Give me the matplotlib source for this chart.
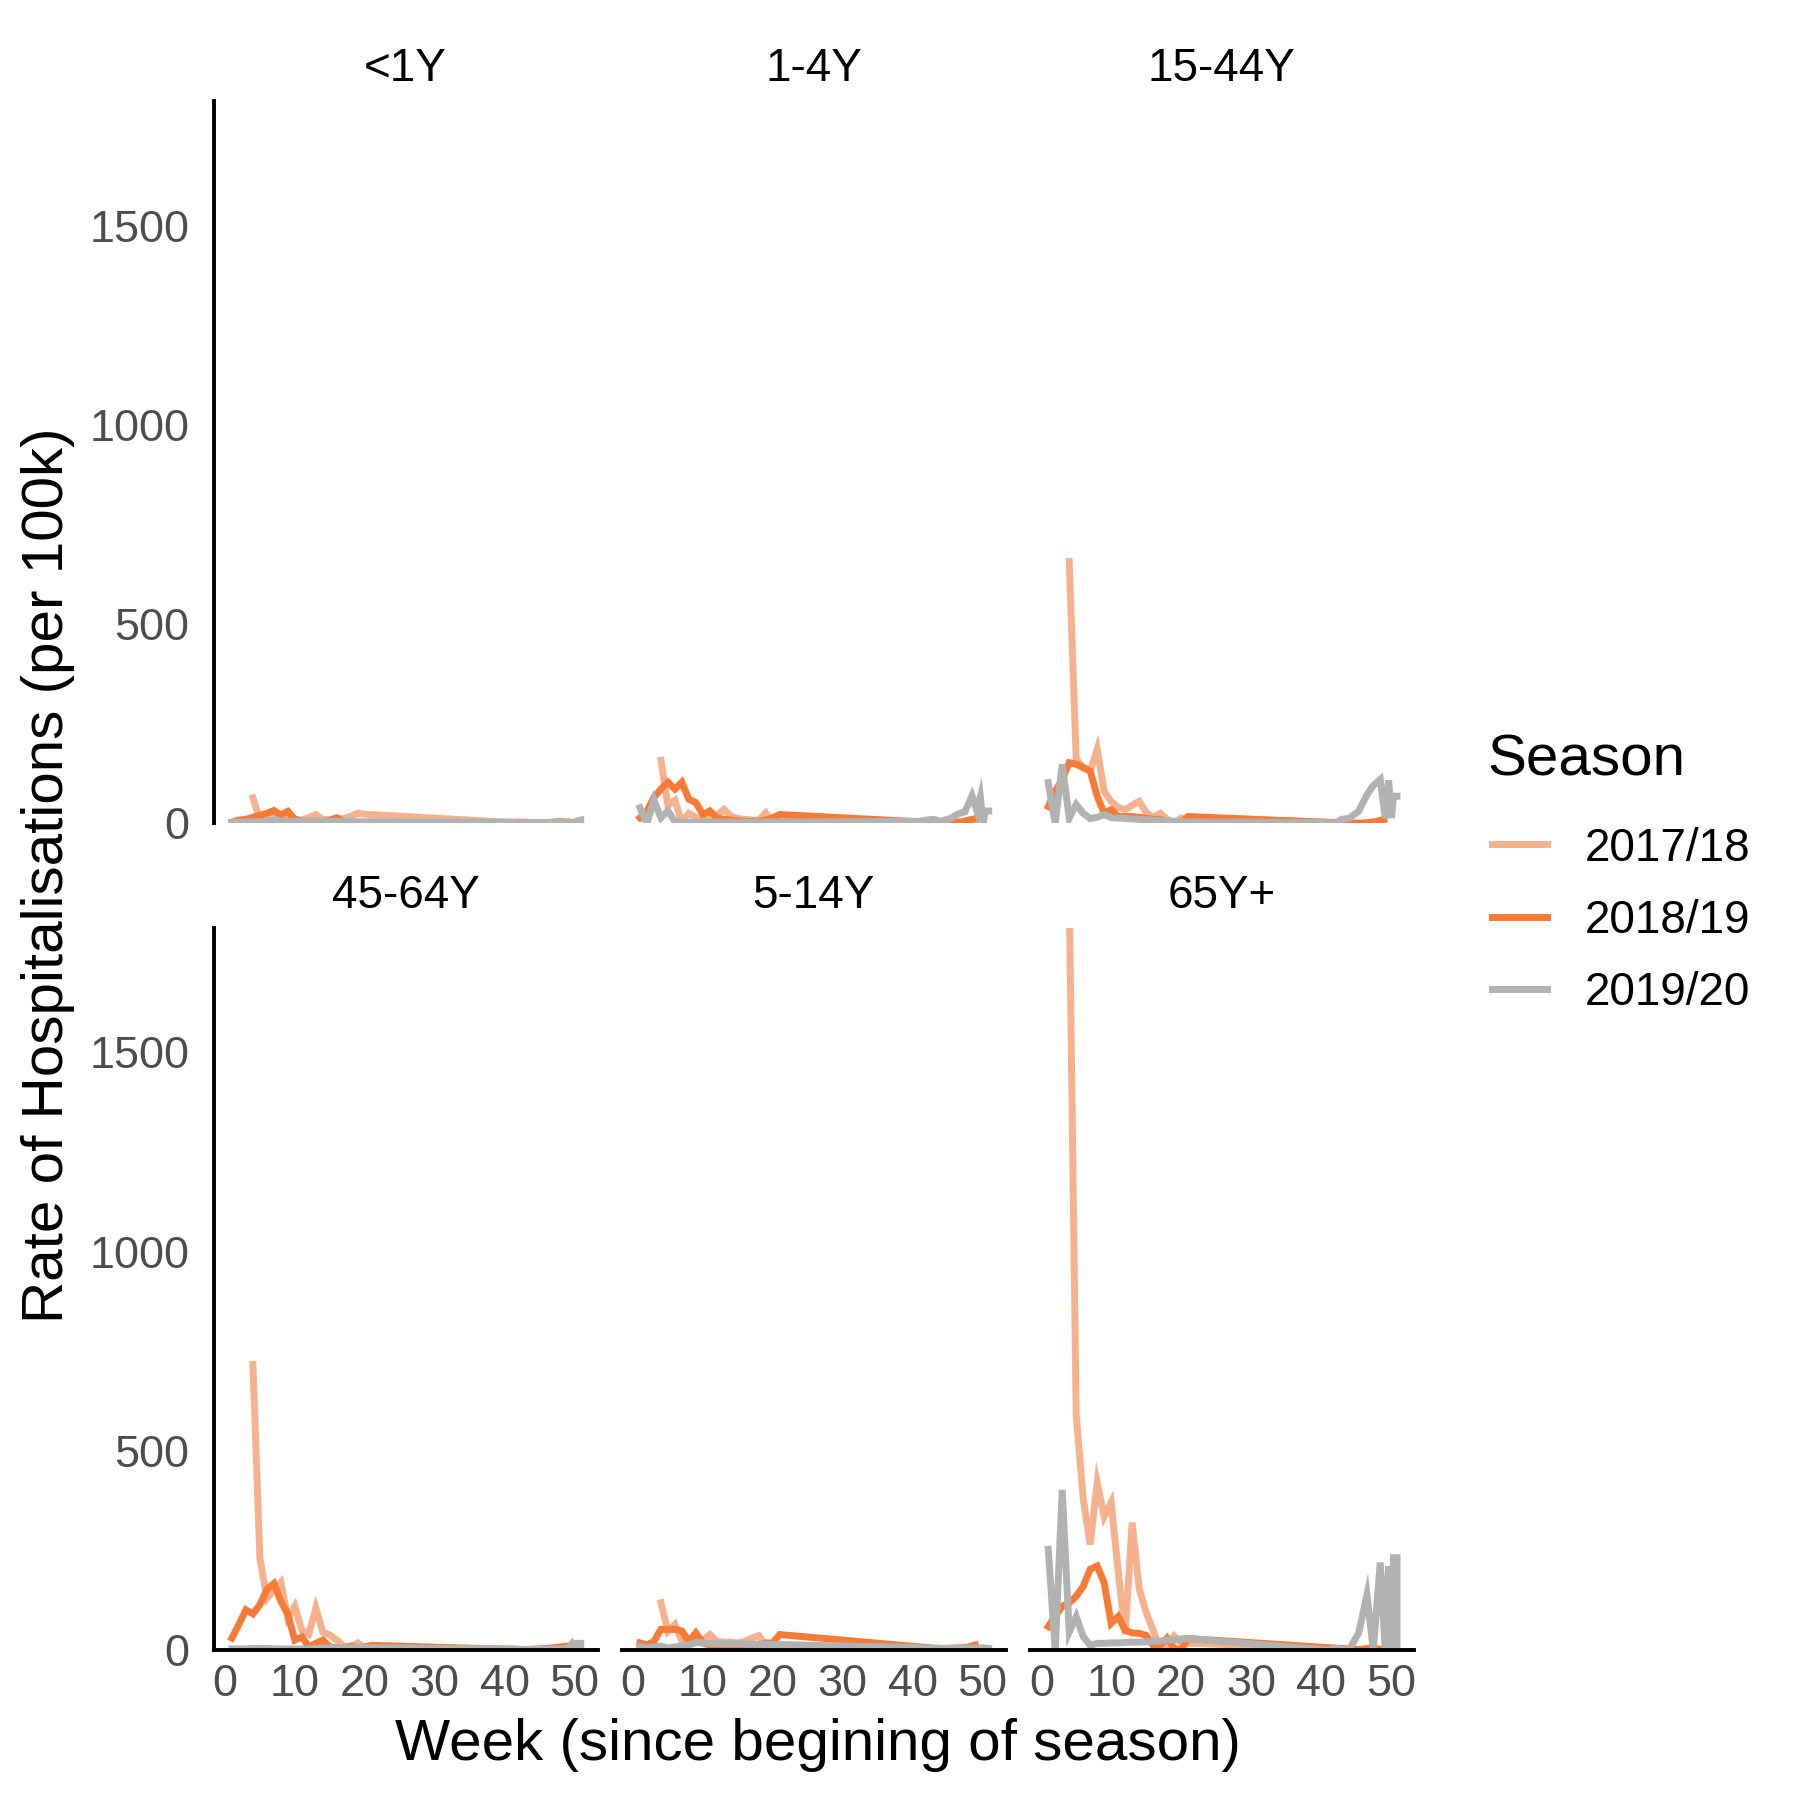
import matplotlib.pyplot as plt
from matplotlib.lines import Line2D

# weeks that have data in each season
weeks_1718 = [4, 5, 6, 7, 8, 9, 10, 11, 12, 13, 14, 15, 16, 17, 18, 19, 20,
              41, 42, 43, 44, 45, 46, 47, 48, 49]
weeks_1819 = [1, 2, 3, 4, 5, 6, 7, 8, 9, 10, 11, 12, 13, 14, 15, 16, 17, 18, 19, 20, 21,
              43, 44, 45, 46, 47, 48, 49]
weeks_1920 = [1, 2, 3, 4, 5, 6, 7, 8, 9, 10, 11, 12, 13, 14, 15, 16, 17, 18, 19, 20, 21,
              41, 42, 43, 44, 45.4, 46.6, 47.5, 48.5, 49.2, 49.7, 50.1, 50.4, 50.9, 50.9]

age_groups = ['<1Y', '1-4Y', '15-44Y', '45-64Y', '5-14Y', '65Y+']
seasons = ['2017/18', '2018/19', '2019/20']
season_colors = ['#F5B28E', '#F77B36', '#B2B2B2']

# rate per 100k
r1718_lt1 = [64, 8, 15, 25, 18, 12, 10, 8, 15, 22, 10, 8, 12, 12, 18, 25, 23,
             2, 4, 3, 2, 1, 1, 2, 3, 2]
r1819_lt1 = [3, 8, 10, 15, 20, 25, 32, 21, 30, 10, 5, 5, 5, 3, 8, 14, 3, 2, 2, 2, 2,
             1, 1, 1, 2, 3, 4, 3]
r1920_lt1 = [2, 3, 3, 3, 4, 5, 8, 6, 5, 5, 5, 5, 5, 5, 5, 5, 5, 4, 4, 4, 4,
             3, 2, 2, 2, 2, 2, 2, 3, 3, 2, 3, 6, 8, 3]

r1718_1to4 = [158, 45, 58, 2, 25, 15, 10, 12, 20, 35, 18, 12, 10, 8, 8, 26, 5,
              2, 2, 1, 1, 1, 2, 2, 1, 1]
r1819_1to4 = [14, 30, 65, 86, 103, 86, 103, 60, 52, 22, 31, 14, 10, 8, 6, 5, 5, 5, 8, 14, 22,
              2, 1, 1, 2, 4, 8, 12]
r1920_1to4 = [39, 0, 58, 14, 31, 5, 3, 2, 3, 3, 3, 3, 3, 3, 3, 3, 3, 3, 3, 3, 3,
              5, 8, 10, 5, 12, 24, 29, 69, 31, 66, 0, 31, 31, 31]

r1718_15to44 = [657, 161, 140, 131, 186, 80, 55, 40, 34, 45, 55, 28, 15, 25, 10, 0, 13,
                3, 2, 2, 1, 1, 1, 2, 2, 2]
r1819_15to44 = [42, 80, 110, 152, 148, 140, 131, 68, 26, 34, 17, 17, 17, 15, 13, 10, 10, 2, 0, 2, 17,
                1, 0, 0, 0, 2, 5, 10]
r1920_15to44 = [102, 0, 148, 13, 47, 25, 12, 15, 22, 14, 13, 12, 11, 10, 9, 8, 7, 6, 5, 4, 3,
                2, 0, 10, 12, 30, 72, 95, 110, 13, 108, 13, 68, 68, 68]

r1718_45to64 = [717, 230, 130, 150, 170, 80, 110, 50, 40, 105, 45, 38, 25, 10, 8, 18, 5,
                2, 2, 1, 1, 2, 3, 4, 5, 6]
r1819_45to64 = [30, 65, 101, 91, 114, 152, 167, 122, 90, 25, 33, 8, 17, 25, 8, 5, 5, 10, 5, 8, 12,
                1, 2, 3, 4, 6, 8, 10]
r1920_45to64 = [3, 3, 3, 4, 4, 4, 3, 3, 3, 3, 3, 3, 4, 5, 5, 5, 6, 6, 6, 6, 6,
                3, 2, 2, 2, 2, 2, 3, 3, 5, 17, 8, 17, 17, 5]

r1718_5to14 = [119, 47, 64, 22, 20, 18, 25, 39, 22, 20, 20, 18, 22, 30, 36, 13, 5,
               3, 4, 3, 2, 2, 3, 4, 3, 2]
r1819_5to14 = [18, 13, 22, 52, 52, 52, 48, 22, 43, 18, 12, 10, 10, 10, 10, 10, 10, 12, 18, 18, 39,
               5, 4, 4, 5, 6, 8, 13]
r1920_5to14 = [9, 5, 8, 10, 5, 8, 10, 12, 20, 18, 17, 17, 16, 16, 16, 15, 15, 15, 14, 14, 14,
               6, 5, 5, 4, 5, 4, 6, 5, 4, 5, 6, 5, 4, 3]

r1718_65plus = [1900, 590, 380, 265, 420, 335, 370, 200, 40, 320, 155, 95, 50, 0, 8, 35, 18,
                5, 3, 2, 1, 1, 2, 3, 3, 2]
r1819_65plus = [59, 85, 110, 118, 135, 160, 203, 211, 169, 67, 84, 50, 43, 42, 37, 12, 12, 30, 5, 0, 29,
                4, 3, 2, 2, 5, 3, 0]
r1920_65plus = [253, 0, 402, 45, 84, 34, 12, 17, 17, 18, 18, 19, 20, 20, 21, 22, 23, 25, 26, 28, 29,
                0, 5, 2, 0, 42, 139, 0, 220, 0, 211, 0, 232, 232, 0]

panel_series = [
    [r1718_lt1, r1819_lt1, r1920_lt1],
    [r1718_1to4, r1819_1to4, r1920_1to4],
    [r1718_15to44, r1819_15to44, r1920_15to44],
    [r1718_45to64, r1819_45to64, r1920_45to64],
    [r1718_5to14, r1819_5to14, r1920_5to14],
    [r1718_65plus, r1819_65plus, r1920_65plus],
]
season_weeks = [weeks_1718, weeks_1819, weeks_1920]

plt.rcParams['font.family'] = ['Liberation Sans', 'DejaVu Sans']

fig = plt.figure(figsize=(9, 9), dpi=200)
W = H = 1800.0
col_left = [213.5, 621.5, 1029.8]
row_top = [100.8, 927.6]
pw, ph = 384.0, 722.5

for i, grp in enumerate(age_groups):
    r, c = divmod(i, 3)
    ax = fig.add_axes([col_left[c] / W, 1 - (row_top[r] + ph) / H, pw / W, ph / H])
    for s in range(3):
        ax.plot(season_weeks[s], panel_series[i][s], color=season_colors[s],
                lw=2.5, solid_joinstyle='miter')
    ax.set_xlim(-1.64, 53.3)
    ax.set_ylim(0, 1813)
    ax.set_xticks([0, 10, 20, 30, 40, 50])
    ax.set_yticks([0, 500, 1000, 1500])
    for side in ['top', 'right', 'left', 'bottom']:
        ax.spines[side].set_visible(False)
    if c == 0:
        ax.spines['left'].set_visible(True)
        ax.spines['left'].set_linewidth(1.4)
    if r == 1:
        ax.spines['bottom'].set_visible(True)
        ax.spines['bottom'].set_linewidth(1.4)
    ax.tick_params(axis='both', length=0, labelsize=16.2, labelcolor='#4D4D4D')
    ax.tick_params(axis='y', pad=8.6, labelleft=(c == 0))
    ax.tick_params(axis='x', pad=5, labelbottom=(r == 1))
    ax.set_title(grp, fontsize=16.5, pad=7)

fig.text(817.9 / W, 1 - 1745 / H, 'Week (since begining of season)',
         ha='center', va='center', fontsize=21)
fig.text(48 / W, 1 - 875 / H, 'Rate of Hospitalisations (per 100k)',
         ha='center', va='center', rotation=90, fontsize=21)

# legend
fig.text(1487 / W, 1 - 775 / H, 'Season', ha='left', va='baseline', fontsize=21)
handles = [Line2D([], [], color=col, lw=2.5) for col in season_colors]
leg = fig.legend(handles, seasons, loc='upper left',
                 bbox_to_anchor=(1491.7 / W, 1 - 826.5 / H), frameon=False,
                 fontsize=16.5, handlelength=1.2, handletextpad=0.83,
                 labelspacing=0.62, borderpad=0, borderaxespad=0)

fig.savefig('out.png', dpi=200)
